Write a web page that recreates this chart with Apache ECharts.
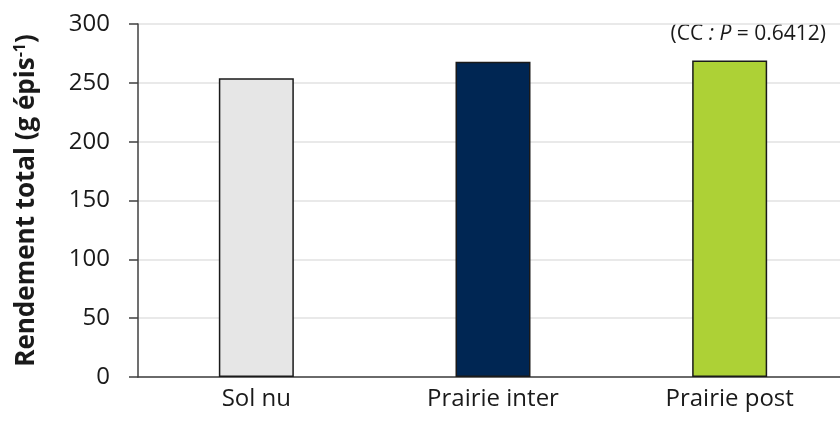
<!DOCTYPE html>
<html>
<head>
<meta charset="utf-8">
<script src="https://cdn.jsdelivr.net/npm/echarts@6/dist/echarts.min.js"></script>
<style>
    html, body { margin: 0; padding: 0; background: #fff; }
    #chart { width: 840px; height: 428px; }
</style>
</head>
<body>
<div id="chart"></div>
<script>
// Data
const categories = ['Sol nu', 'Prairie inter', 'Prairie post'];
const rendement = [254, 268, 269];
const barColors = ['#e6e6e6', '#002653', '#add136'];
const yTicks = { min: 0, max: 300, interval: 50 };

const fontFamily = '"Open Sans", "Noto Sans", sans-serif';
const textColor = '#1a1a1a';

let myChart = echarts.init(document.getElementById('chart'));

let option = {
    backgroundColor: '#ffffff',
    animation: false,
    grid: {
        left: 138,
        right: -8,
        top: 24,
        bottom: 51,
        outerBoundsMode: 'none',
        containLabel: false
    },
    graphic: [{
        type: 'text',
        right: 14,
        top: 24,
        style: {
            text: '{n|(CC }{i|: P}{n| = 0.6412)}',
            rich: {
                n: { fontFamily: fontFamily, fontSize: 21, fill: textColor },
                i: { fontFamily: fontFamily, fontSize: 21, fontStyle: 'italic', fill: textColor }
            }
        }
    }],
    xAxis: {
        type: 'category',
        data: categories,
        axisTick: { show: false },
        axisLine: { lineStyle: { color: '#404040', width: 1.5 } },
        axisLabel: {
            margin: 10,
            fontFamily: fontFamily,
            fontSize: 24,
            color: textColor
        }
    },
    yAxis: {
        type: 'value',
        min: yTicks.min,
        max: yTicks.max,
        interval: yTicks.interval,
        name: '{b|Rendement total (g épis}{s|-1}{b|)}',
        nameLocation: 'middle',
        nameRotate: 90,
        nameGap: 96,
        nameTextStyle: {
            rich: {
                b: { fontFamily: fontFamily, fontSize: 26, fontWeight: 'bold', color: textColor },
                s: { fontFamily: fontFamily, fontSize: 16, fontWeight: 'bold', color: textColor, padding: [0, 0, 14, 0] }
            }
        },
        axisLine: { show: true, lineStyle: { color: '#404040', width: 1.5 } },
        axisTick: { show: true, length: 9, lineStyle: { color: '#404040', width: 1.5 } },
        splitLine: { lineStyle: { color: '#e2e2e2', width: 1.5 } },
        axisLabel: {
            margin: 28,
            fontFamily: fontFamily,
            fontSize: 24,
            color: textColor
        }
    },
    series: [{
        name: 'Rendement total',
        type: 'bar',
        barWidth: 75,
        data: rendement.map((v, i) => ({
            value: v,
            itemStyle: { color: barColors[i] }
        })),
        itemStyle: {
            borderColor: '#1a1a1a',
            borderWidth: 1.5
        }
    }]
};

myChart.setOption(option, true);
window.onresize = function() {
    myChart.resize();
};
</script>
</body>
</html>
